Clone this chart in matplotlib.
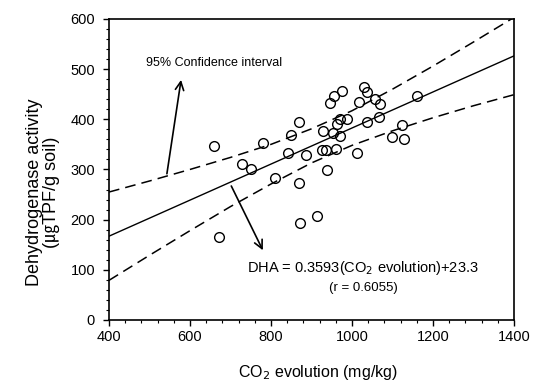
import numpy as np
import matplotlib
matplotlib.use('Agg')
import matplotlib.pyplot as plt
from matplotlib.ticker import MultipleLocator

plt.rcParams['font.family'] = ['Liberation Sans', 'Noto Sans CJK SC', 'DejaVu Sans']

# data
co2 = [660, 671, 728, 750, 780, 810, 843, 849, 869, 870, 871, 886, 913,
       925, 929, 936, 938, 945, 955, 952, 960, 963, 970, 970, 975, 987,
       1012, 1017, 1029, 1036, 1036, 1056, 1066, 1070, 1099, 1124, 1129, 1161]
dha = [347, 165, 310, 300, 353, 282, 332, 369, 394, 274, 193, 329, 208,
       338, 377, 338, 299, 432, 447, 373, 341, 390, 367, 400, 456, 401,
       332, 435, 464, 454, 395, 440, 404, 430, 364, 388, 360, 446]

# regression from the annotation
slope = 0.3593
intercept = 23.3

# 95% confidence band
ci_x = [400, 500, 600, 700, 800, 900, 1000, 1100, 1200, 1300, 1400]
ci_upper = [255, 277, 300, 324, 350, 381, 417, 460, 506, 554, 603]
ci_lower = [79, 129, 178, 226, 271, 313, 348, 377, 403, 427, 449]

fig = plt.figure(figsize=(5.35, 3.92), dpi=100)
ax = fig.add_axes([0.2037, 0.1837, 0.757, 0.768])

xx = np.array([400, 1400])
ax.plot(xx, slope * xx + intercept, color='black', lw=1.0)
ax.plot(ci_x, ci_upper, color='black', lw=1.1, dashes=(7, 4))
ax.plot(ci_x, ci_lower, color='black', lw=1.1, dashes=(7, 4))
ax.plot(co2, dha, 'o', mfc='none', mec='black', ms=7, mew=1.0)

ax.set_xlim(400, 1400)
ax.set_ylim(0, 600)
ax.xaxis.set_major_locator(MultipleLocator(200))
ax.xaxis.set_minor_locator(MultipleLocator(40))
ax.yaxis.set_major_locator(MultipleLocator(100))
ax.yaxis.set_minor_locator(MultipleLocator(20))
ax.tick_params(which='major', direction='out', length=4, width=1.0,
               labelsize=10.5, top=False, right=False)
ax.tick_params(axis='y', which='major', pad=6)
ax.tick_params(which='minor', direction='out', length=2.2, width=0.8,
               top=False, right=False)
for sp in ax.spines.values():
    sp.set_linewidth(1.2)

fig.text(0.595, 0.05, 'CO$_2$ evolution (mg/kg)', fontsize=11.5,
         ha='center', va='center')
fig.text(0.08, 0.51, 'Dehydrogenase activity\n(\u338dTPF/g soil)',
         rotation=90, ha='center', va='center', fontsize=13,
         multialignment='center', linespacing=0.95)

ax.text(491, 513, '95% Confidence interval', fontsize=9, va='center')
ax.annotate('', xy=(579, 484), xytext=(542, 286),
            arrowprops=dict(arrowstyle='->', color='black', lw=1.2,
                            mutation_scale=15))
ax.annotate('', xy=(783, 134), xytext=(699, 272),
            arrowprops=dict(arrowstyle='->', color='black', lw=1.2,
                            mutation_scale=15))
ax.text(1028, 103, 'DHA = 0.3593(CO$_2$ evolution)+23.3', fontsize=10.5,
        ha='center', va='center')
ax.text(1028, 63, '(r = 0.6055)', fontsize=9.5, ha='center', va='center')

fig.savefig('out.png', dpi=100)
